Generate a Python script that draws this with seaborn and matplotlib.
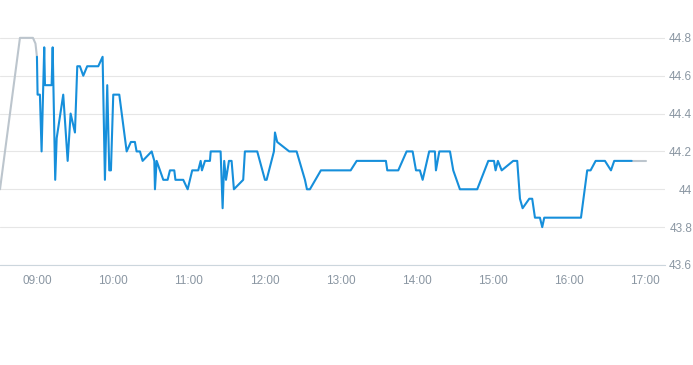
import pandas as pd
import matplotlib
matplotlib.use("Agg")
import matplotlib.pyplot as plt
import matplotlib.dates as mdates
import seaborn as sns

# Pre-market / after-close series (grey)
pre_times = ["08:30:50", "08:46:35", "08:56:50", "08:58:50", "09:00:00"]
pre_values = [44.00, 44.80, 44.80, 44.77, 44.70]
post_times = ["16:49:30", "17:00:30"]
post_values = [44.15, 44.15]

# Trading session (blue)
times = [
    "09:00:00", "09:00:30", "09:02:20", "09:03:40", "09:05:45", "09:06:20", "09:11:35", "09:12:25",
    "09:14:25", "09:15:35", "09:20:45", "09:24:15", "09:26:35", "09:30:00", "09:31:50", "09:33:55",
    "09:36:35", "09:39:40", "09:48:25", "09:51:50", "09:53:40", "09:55:30", "09:57:05", "09:58:25",
    "10:00:15", "10:05:00", "10:10:50", "10:14:10", "10:17:20", "10:18:40", "10:21:20", "10:23:25",
    "10:30:35", "10:32:40", "10:33:10", "10:34:30", "10:39:45", "10:43:10", "10:45:00", "10:48:25",
    "10:49:20", "10:55:30", "10:59:00", "11:02:35", "11:07:20", "11:09:15", "11:10:15", "11:12:40",
    "11:16:35", "11:17:10", "11:25:00", "11:26:35", "11:27:50", "11:29:15", "11:31:35", "11:33:40",
    "11:35:30", "11:42:50", "11:44:10", "11:53:55", "12:00:00", "12:01:20", "12:07:05", "12:07:55",
    "12:09:40", "12:19:10", "12:25:00", "12:31:35", "12:33:10", "12:35:30", "12:44:10", "13:07:40",
    "13:12:25", "13:35:30", "13:36:35", "13:45:15", "13:51:50", "13:56:35", "13:59:15", "14:02:20",
    "14:04:30", "14:09:40", "14:14:10", "14:15:00", "14:17:40", "14:26:05", "14:28:40", "14:33:55",
    "14:47:35", "14:56:20", "15:00:50", "15:02:05", "15:03:55", "15:06:55", "15:16:00", "15:19:10",
    "15:21:20", "15:23:25", "15:28:40", "15:31:00", "15:33:10", "15:37:05", "15:38:55", "15:40:30",
    "16:09:30", "16:14:25", "16:17:05", "16:21:05", "16:28:25", "16:33:10", "16:35:45", "16:49:30",
]
values = [
    44.70, 44.50, 44.50, 44.20, 44.75, 44.55, 44.55, 44.75,
    44.05, 44.27, 44.50, 44.15, 44.40, 44.30, 44.65, 44.65,
    44.60, 44.65, 44.65, 44.70, 44.05, 44.55, 44.10, 44.10,
    44.50, 44.50, 44.20, 44.25, 44.25, 44.20, 44.20, 44.15,
    44.20, 44.15, 44.00, 44.15, 44.05, 44.05, 44.10, 44.10,
    44.05, 44.05, 44.00, 44.10, 44.10, 44.15, 44.10, 44.15,
    44.15, 44.20, 44.20, 43.90, 44.15, 44.05, 44.15, 44.15,
    44.00, 44.05, 44.20, 44.20, 44.05, 44.05, 44.20, 44.30,
    44.25, 44.20, 44.20, 44.05, 44.00, 44.00, 44.10, 44.10,
    44.15, 44.15, 44.10, 44.10, 44.20, 44.20, 44.10, 44.10,
    44.05, 44.20, 44.20, 44.10, 44.20, 44.20, 44.10, 44.00,
    44.00, 44.15, 44.15, 44.10, 44.15, 44.10, 44.15, 44.15,
    43.95, 43.90, 43.95, 43.95, 43.85, 43.85, 43.80, 43.85,
    43.85, 44.10, 44.10, 44.15, 44.15, 44.10, 44.15, 44.15,
]
y_ticks = [43.6, 43.8, 44.0, 44.2, 44.4, 44.6, 44.8]
y_labels = ["43.6", "43.8", "44", "44.2", "44.4", "44.6", "44.8"]


def to_dt(ts):
    return pd.to_datetime(["2024-01-02 " + t for t in ts])


session = pd.DataFrame({"time": to_dt(times), "price": values})
pre = pd.DataFrame({"time": to_dt(pre_times), "price": pre_values})
post = pd.DataFrame({"time": to_dt(post_times), "price": post_values})

sns.set_style("white")
plt.rcParams["font.family"] = ["Liberation Sans Narrow", "Liberation Sans", "DejaVu Sans"]

fig = plt.figure(figsize=(6.93, 3.65), dpi=100)
ax = fig.add_axes([0, 100 / 365, 665 / 693, 265 / 365])

grey = "#bcc5cd"
blue = "#168fdb"
sns.lineplot(data=pre, x="time", y="price", ax=ax, color=grey, linewidth=1.5, sort=False, estimator=None)
sns.lineplot(data=post, x="time", y="price", ax=ax, color=grey, linewidth=1.5, sort=False, estimator=None)
sns.lineplot(data=session, x="time", y="price", ax=ax, color=blue, linewidth=1.5, sort=False, estimator=None)

ax.set_xlim(pd.Timestamp("2024-01-02 08:30:50"), pd.Timestamp("2024-01-02 17:15:50"))
ax.set_ylim(43.6, 45.0)

ax.xaxis.set_major_locator(mdates.HourLocator())
ax.xaxis.set_major_formatter(mdates.DateFormatter("%H:%M"))
ax.set_yticks(y_ticks)
ax.set_yticklabels(y_labels)
ax.yaxis.tick_right()
for lbl in ax.get_yticklabels():
    lbl.set_horizontalalignment("right")

label_color = "#8a96a2"
ax.tick_params(axis="x", length=4, width=0.8, color="#ccd6dd", labelcolor=label_color, labelsize=8.5, pad=3)
ax.tick_params(axis="y", length=0, labelcolor=label_color, labelsize=8.5, pad=19.5)

ax.grid(axis="y", color="#e6e6e6", linewidth=0.8)
ax.grid(axis="x", visible=False)
for side in ["top", "left", "right"]:
    ax.spines[side].set_visible(False)
ax.spines["bottom"].set_color("#ccd6dd")
ax.spines["bottom"].set_linewidth(0.8)
ax.set_xlabel("")
ax.set_ylabel("")

fig.savefig("out.png", dpi=100)
